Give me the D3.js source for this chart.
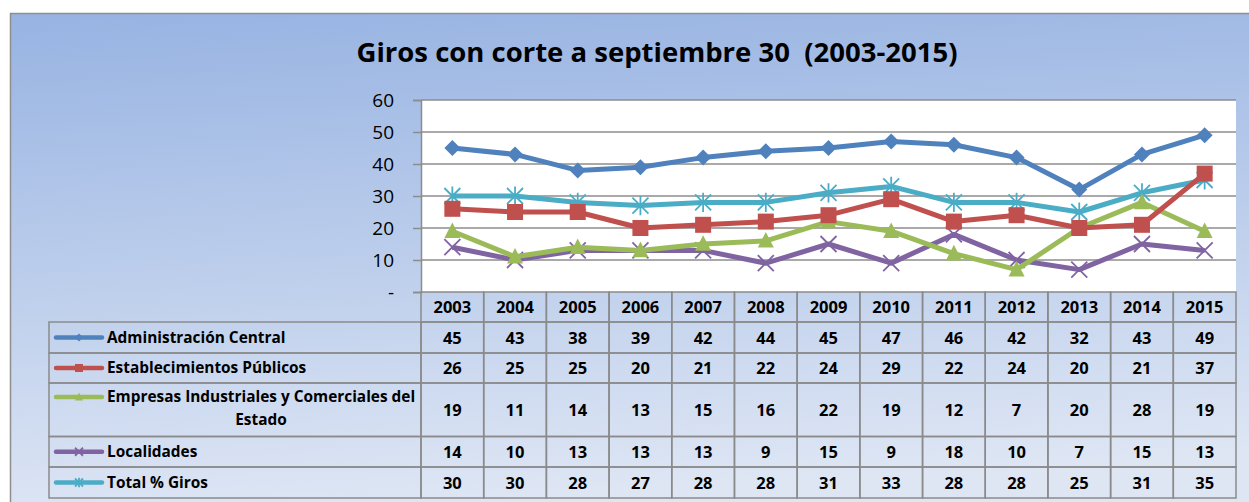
<!DOCTYPE html>
<html>
<head>
<meta charset="utf-8">
<script src="https://cdn.jsdelivr.net/npm/d3@7"></script>
<style>
  body { margin: 0; background: #fff; }
  svg { display: block; font-family: "Open Sans", Lato, sans-serif; }
</style>
</head>
<body>
<svg id="chart" width="1249" height="502"></svg>
<script>
const years = ['2003','2004','2005','2006','2007','2008','2009','2010','2011','2012','2013','2014','2015'];
const seriesNames = ['Administración Central', 'Establecimientos Públicos', 'Empresas Industriales y Comerciales del Estado', 'Localidades', 'Total % Giros'];
const adminCentral = [45, 43, 38, 39, 42, 44, 45, 47, 46, 42, 32, 43, 49];
const establecimientos = [26, 25, 25, 20, 21, 22, 24, 29, 22, 24, 20, 21, 37];
const empresas = [19, 11, 14, 13, 15, 16, 22, 19, 12, 7, 20, 28, 19];
const localidades = [14, 10, 13, 13, 13, 9, 15, 9, 18, 10, 7, 15, 13];
const totalGiros = [30, 30, 28, 27, 28, 28, 31, 33, 28, 28, 25, 31, 35];
const yTicks = [0, 10, 20, 30, 40, 50, 60];

const seriesValues = [adminCentral, establecimientos, empresas, localidades, totalGiros];
const colors = ['#4F81BD', '#C0504D', '#9BBB59', '#8064A2', '#4BACC6'];
const markers = ['diamond', 'square', 'triangle', 'cross', 'star'];

const svg = d3.select('#chart');
const W = 1249, H = 502;
const plot = {left: 421, right: 1236, top: 100, bottom: 292};

// background gradient
const defs = svg.append('defs');
const grad = defs.append('linearGradient').attr('id', 'bg')
    .attr('x1', 0).attr('y1', 0).attr('x2', 0.15).attr('y2', 1);
grad.append('stop').attr('offset', '0%').attr('stop-color', '#97B3E2');
grad.append('stop').attr('offset', '100%').attr('stop-color', '#DEE6F4');

svg.append('rect')
    .attr('x', 10.5).attr('y', 13.5)
    .attr('width', W).attr('height', H)
    .attr('fill', 'url(#bg)')
    .attr('stroke', '#8E8E8E').attr('stroke-width', 1.5);

// title
svg.append('text')
    .attr('x', 657).attr('y', 62)
    .attr('text-anchor', 'middle')
    .attr('font-size', '27.5px')
    .attr('font-weight', 'bold')
    .attr('fill', '#000')
    .attr('xml:space', 'preserve')
    .text('Giros con corte a septiembre 30  (2003-2015)');

// scales
const x = d3.scaleBand().domain(years).range([plot.left, plot.right]);
const y = d3.scaleLinear().domain([0, 60]).range([plot.bottom, plot.top]);

// plot area
svg.append('rect')
    .attr('x', plot.left).attr('y', plot.top)
    .attr('width', plot.right - plot.left).attr('height', plot.bottom - plot.top)
    .attr('fill', '#fff');

// gridlines
svg.append('g').selectAll('line')
    .data(yTicks.filter(d => d > 0))
    .join('line')
    .attr('x1', plot.left).attr('x2', plot.right)
    .attr('y1', d => y(d)).attr('y2', d => y(d))
    .attr('stroke', '#8C8C8C').attr('stroke-width', 1.5);

// y axis
const yAxis = svg.append('g')
    .attr('transform', `translate(${plot.left},0)`)
    .call(d3.axisLeft(y).tickValues(yTicks).tickSize(8).tickPadding(19)
        .tickFormat(d => d === 0 ? '-' : d));
yAxis.select('.domain').attr('stroke', '#8C8C8C').attr('stroke-width', 1.5);
yAxis.selectAll('.tick line').attr('stroke', '#8C8C8C').attr('stroke-width', 1.5);
yAxis.selectAll('.tick text')
    .attr('font-size', '19px').attr('fill', '#000')
    .attr('font-family', '"Open Sans", Lato, sans-serif');

// marker drawing
function drawMarker(g, type, color, size) {
    const s = size;
    if (type === 'diamond') {
        g.append('path').attr('d', `M0,${-s}L${s},0L0,${s}L${-s},0Z`).attr('fill', color);
    } else if (type === 'square') {
        g.append('rect').attr('x', -s).attr('y', -s).attr('width', 2 * s).attr('height', 2 * s).attr('fill', color);
    } else if (type === 'triangle') {
        g.append('path').attr('d', `M0,${-s * 1.1}L${s},${s * 0.85}L${-s},${s * 0.85}Z`).attr('fill', color);
    } else if (type === 'cross') {
        g.append('path').attr('d', `M${-s},${-s}L${s},${s}M${-s},${s}L${s},${-s}`)
            .attr('stroke', color).attr('stroke-width', 1.8).attr('fill', 'none');
    } else if (type === 'star') {
        g.append('path').attr('d', `M${-s},${-s}L${s},${s}M${-s},${s}L${s},${-s}M0,${-s * 1.2}L0,${s * 1.2}`)
            .attr('stroke', color).attr('stroke-width', 1.8).attr('fill', 'none');
    }
}
const markerSize = {diamond: 8, square: 8, triangle: 8, cross: 8, star: 8};

// lines and markers
const line = d3.line()
    .x((d, i) => x(years[i]) + x.bandwidth() / 2)
    .y(d => y(d));

// draw order: Total first so others sit on top
const order = [4, 3, 2, 1, 0];
order.forEach(k => {
    const vals = seriesValues[k];
    svg.append('path')
        .datum(vals)
        .attr('d', line)
        .attr('fill', 'none')
        .attr('stroke', colors[k])
        .attr('stroke-width', 5)
        .attr('stroke-linejoin', 'round');
    vals.forEach((v, i) => {
        const g = svg.append('g')
            .attr('transform', `translate(${x(years[i]) + x.bandwidth() / 2},${y(v)})`);
        drawMarker(g, markers[k], colors[k], markerSize[markers[k]]);
    });
});

// data table
const rowEdges = [292, 322, 353, 383, 436.5, 467, 498];
const tableLeft = 49;
const border = '#8A8A8A';
const numSize = '16.5px', labelSize = '15.4px';
const tbl = svg.append('g');

// header cells
years.forEach(yr => {
    tbl.append('rect')
        .attr('x', x(yr)).attr('y', rowEdges[0])
        .attr('width', x.bandwidth()).attr('height', rowEdges[1] - rowEdges[0])
        .attr('fill', 'none').attr('stroke', border).attr('stroke-width', 1.5);
    tbl.append('text')
        .attr('x', x(yr) + x.bandwidth() / 2).attr('y', (rowEdges[0] + rowEdges[1]) / 2 + 6)
        .attr('text-anchor', 'middle').attr('font-size', numSize).attr('font-weight', 'bold')
        .text(yr);
});

seriesNames.forEach((name, k) => {
    const top = rowEdges[k + 1], bottom = rowEdges[k + 2];
    const mid = (top + bottom) / 2;
    // label cell
    tbl.append('rect')
        .attr('x', tableLeft).attr('y', top)
        .attr('width', plot.left - tableLeft).attr('height', bottom - top)
        .attr('fill', 'none').attr('stroke', border).attr('stroke-width', 1.5);
    // legend key
    const keyY = k === 2 ? top + 14 : mid;
    tbl.append('line')
        .attr('x1', 56).attr('x2', 102).attr('y1', keyY).attr('y2', keyY)
        .attr('stroke', colors[k]).attr('stroke-width', 4.5).attr('stroke-linecap', 'round');
    const g = tbl.append('g').attr('transform', `translate(79,${keyY})`);
    drawMarker(g, markers[k], colors[k], 4);
    // label text
    if (k === 2) {
        tbl.append('text')
            .attr('x', 107).attr('y', top + 19)
            .attr('font-size', labelSize).attr('font-weight', 'bold')
            .text('Empresas Industriales y Comerciales del');
        tbl.append('text')
            .attr('x', 261).attr('y', top + 42)
            .attr('text-anchor', 'middle')
            .attr('font-size', labelSize).attr('font-weight', 'bold')
            .text('Estado');
    } else {
        tbl.append('text')
            .attr('x', 107).attr('y', mid + 5)
            .attr('font-size', labelSize).attr('font-weight', 'bold')
            .text(name);
    }
    // value cells
    seriesValues[k].forEach((v, i) => {
        tbl.append('rect')
            .attr('x', x(years[i])).attr('y', top)
            .attr('width', x.bandwidth()).attr('height', bottom - top)
            .attr('fill', 'none').attr('stroke', border).attr('stroke-width', 1.5);
        tbl.append('text')
            .attr('x', x(years[i]) + x.bandwidth() / 2).attr('y', mid + 6)
            .attr('text-anchor', 'middle').attr('font-size', numSize).attr('font-weight', 'bold')
            .text(v);
    });
});
</script>
</body>
</html>
